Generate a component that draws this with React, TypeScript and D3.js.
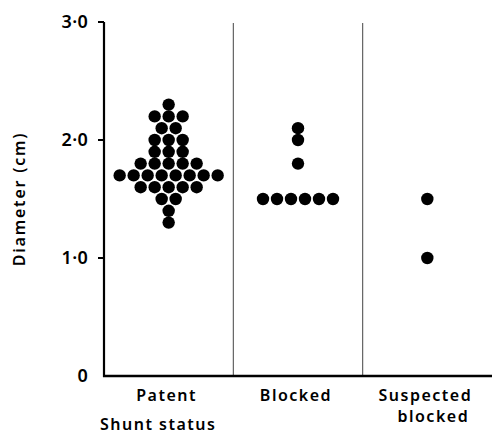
import React from 'react';
import * as d3 from 'd3';

// shunt status groups along the x axis
const categories = ['Patent', 'Blocked', 'Suspected blocked'];

// individual diameter measurements (cm), one entry per patient
const patentValues = [
  2.3,
  2.2, 2.2, 2.2,
  2.1, 2.1,
  2.0, 2.0, 2.0,
  1.9, 1.9, 1.9,
  1.8, 1.8, 1.8, 1.8, 1.8,
  1.7, 1.7, 1.7, 1.7, 1.7, 1.7, 1.7, 1.7,
  1.6, 1.6, 1.6, 1.6, 1.6,
  1.5, 1.5,
  1.4,
  1.3,
];
const blockedValues = [2.1, 2.0, 1.8, 1.5, 1.5, 1.5, 1.5, 1.5, 1.5];
const suspectedValues = [1.5, 1.0];

const yTicks = [0, 1, 2, 3];
const tickLabels = ['0', '1·0', '2·0', '3·0'];

const FONT = "'Noto Sans', 'DejaVu Sans', sans-serif";

const W = 492;
const H = 436;

export default function App() {
  const x = d3.scaleBand<string>().domain(categories).range([104, 492]).padding(0);
  const y = d3.scaleLinear().domain([0, 3]).range([376, 22]);

  const groups = [patentValues, blockedValues, suspectedValues];
  const dotR = 6.2;
  const step = 14;

  // lay dots out side by side when they share a value
  const dots: { cx: number; cy: number; key: string }[] = [];
  groups.forEach((vals, gi) => {
    const center = (x(categories[gi]) || 0) + x.bandwidth() / 2;
    const counts = d3.rollup(vals, v => v.length, v => v);
    counts.forEach((n, val) => {
      for (let i = 0; i < n; i++) {
        dots.push({
          cx: center + (i - (n - 1) / 2) * step,
          cy: y(val),
          key: `${gi}-${val}-${i}`,
        });
      }
    });
  });

  const [x0, x1] = x.range();

  return (
    <svg width={W} height={H} style={{ position: 'absolute', left: 0, top: 0, background: '#fff' }}>
      {/* group dividers */}
      {categories.slice(1).map(c => (
        <line key={c} x1={x(c)} x2={x(c)} y1={y(3) + 1} y2={y(0)} stroke="#555" strokeWidth={1.1} />
      ))}

      {/* axes */}
      <line x1={x0} x2={x0} y1={y(3)} y2={y(0) + 1} stroke="#000" strokeWidth={2.2} />
      <line x1={x0 - 1} x2={x1} y1={y(0)} y2={y(0)} stroke="#000" strokeWidth={2.4} />
      {yTicks.filter(t => t > 0).map(t => (
        <line key={t} x1={x0 - 6} x2={x0} y1={y(t)} y2={y(t)} stroke="#000" strokeWidth={2} />
      ))}
      {yTicks.map((t, i) => (
        <text key={t} x={88} y={y(t)} dy="0.36em" textAnchor="end" fontFamily={FONT}
          fontSize={18} fontWeight={600} letterSpacing={0.3} fill="#000">{tickLabels[i]}</text>
      ))}

      {/* y axis title */}
      <text transform={`translate(25,199) rotate(-90)`} textAnchor="middle" fontFamily={FONT}
        fontSize={16} fontWeight={600} letterSpacing={1.8} fill="#000">Diameter (cm)</text>

      {/* category labels */}
      {categories.map(c => {
        const cx = (x(c) || 0) + x.bandwidth() / 2;
        const words = c === 'Suspected blocked' ? ['Suspected', 'blocked'] : [c];
        return (
          <text key={c} x={cx} y={401} textAnchor="middle" fontFamily={FONT}
            fontSize={16} fontWeight={600} letterSpacing={1.5} fill="#000">
            {words.map((w, i) => (
              <tspan key={w} x={cx + (i === 1 ? 6 : -2)} dy={i === 0 ? 0 : 21}>{w}</tspan>
            ))}
          </text>
        );
      })}
      <text x={100} y={430} fontFamily={FONT} fontSize={16} fontWeight={600}
        letterSpacing={1.5} fill="#000">Shunt status</text>

      {/* dots */}
      {dots.map(d => (
        <circle key={d.key} cx={d.cx} cy={d.cy} r={dotR} fill="#000" />
      ))}
    </svg>
  );
}
